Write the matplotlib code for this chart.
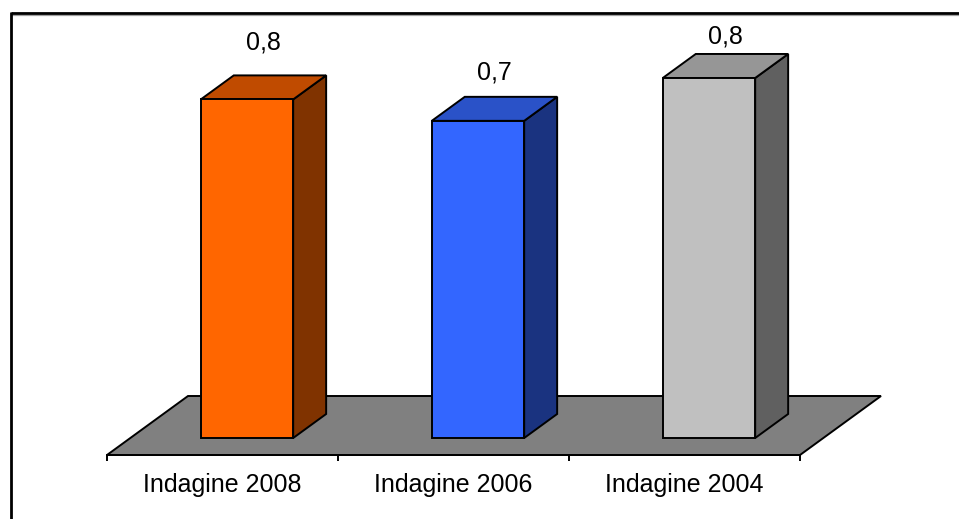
import matplotlib
matplotlib.use("Agg")
import matplotlib.pyplot as plt
from matplotlib.patches import Polygon
from matplotlib.lines import Line2D

# Survey results
categories = ["Indagine 2008", "Indagine 2006", "Indagine 2004"]
values = [0.79, 0.74, 0.84]

# Face colours for each bar: front, top, side
front_colors = ["#FF6600", "#3366FF", "#C0C0C0"]
top_colors = ["#C04B00", "#2A52C8", "#969696"]
side_colors = ["#803300", "#1A3380", "#606060"]
label_pad_px = [33, 24, 17]

plt.rcParams["font.family"] = ["Liberation Sans", "DejaVu Sans"]

W, H, DPI = 959, 519, 100
fig = plt.figure(figsize=(W / DPI, H / DPI), dpi=DPI)
ax = fig.add_axes([0, 0, 1, 1])

# Oblique projection: depth d in [0, 1] shifts right and up
px_per_cat = 231.0
px_per_val = 428.6
depth_dx = 81.0 / px_per_cat
depth_dy = 59.0 / px_per_val


def proj(cx, v, d):
    return (cx + d * depth_dx, v + d * depth_dy)


left_px, base_px = 107.0, 64.0
ax.set_xlim(-0.5 - left_px / px_per_cat, -0.5 + (W - left_px) / px_per_cat)
ax.set_ylim(-base_px / px_per_val, (H - base_px) / px_per_val)

edge_lw = 1.4
n = len(categories)

# Floor
floor = Polygon([proj(-0.5, 0, 0), proj(n - 0.5, 0, 0),
                 proj(n - 0.5, 0, 1), proj(-0.5, 0, 1)],
                closed=True, facecolor="#808080", edgecolor="black",
                linewidth=edge_lw, zorder=1)
ax.add_patch(floor)

# Bars, sitting in the middle of the floor depth
bar_w = 0.4
d0, d1 = 0.288, 0.695
for i, (v, fc, tc, sc) in enumerate(zip(values, front_colors, top_colors, side_colors)):
    cx = i + 0.005
    xl, xr = cx - bar_w / 2, cx + bar_w / 2
    front = [proj(xl, 0, d0), proj(xr, 0, d0), proj(xr, v, d0), proj(xl, v, d0)]
    top = [proj(xl, v, d0), proj(xr, v, d0), proj(xr, v, d1), proj(xl, v, d1)]
    side = [proj(xr, 0, d0), proj(xr, 0, d1), proj(xr, v, d1), proj(xr, v, d0)]
    for pts, c in ((side, sc), (top, tc), (front, fc)):
        ax.add_patch(Polygon(pts, closed=True, facecolor=c, edgecolor="black",
                             linewidth=edge_lw, joinstyle="miter", zorder=2))
    lx, _ = proj(cx, v, (d0 + d1) / 2)
    _, ly = proj(cx, v, d1)
    ax.annotate(f"{v:.1f}".replace(".", ","), (lx, ly),
                xytext=(0, label_pad_px[i] * 72 / DPI), textcoords="offset points",
                ha="center", va="center", fontsize=18, zorder=3)

# Category axis along the front edge of the floor
for s in ("top", "right", "left"):
    ax.spines[s].set_visible(False)
ax.spines["bottom"].set_position(("data", 0))
ax.spines["bottom"].set_bounds(-0.5, n - 0.5)
ax.spines["bottom"].set_linewidth(edge_lw)
ax.spines["bottom"].set_zorder(3)
ax.set_yticks([])
ax.set_xticks([i - 0.5 for i in range(n + 1)])
ax.set_xticklabels([])
ax.tick_params(axis="x", which="major", direction="out", length=4, width=edge_lw)
ax.set_xticks(range(n), minor=True)
ax.set_xticklabels(categories, minor=True, fontsize=18)
ax.tick_params(axis="x", which="minor", length=0, pad=13)
ax.patch.set_visible(False)

# Frame around the chart area
fx0, fy0 = 10.5 / W, 1 - 13 / H
fig.add_artist(Line2D([fx0, 1], [fy0 - 2 / H, fy0 - 2 / H], transform=fig.transFigure,
                      color="#A0A0A0", linewidth=0.9))
fig.add_artist(Line2D([fx0, 1], [fy0, fy0], transform=fig.transFigure,
                      color="black", linewidth=2.0, solid_capstyle="butt"))
fig.add_artist(Line2D([fx0, fx0], [0, fy0 + 1 / H], transform=fig.transFigure,
                      color="black", linewidth=2.0, solid_capstyle="butt"))

fig.savefig("out.png", dpi=DPI)
